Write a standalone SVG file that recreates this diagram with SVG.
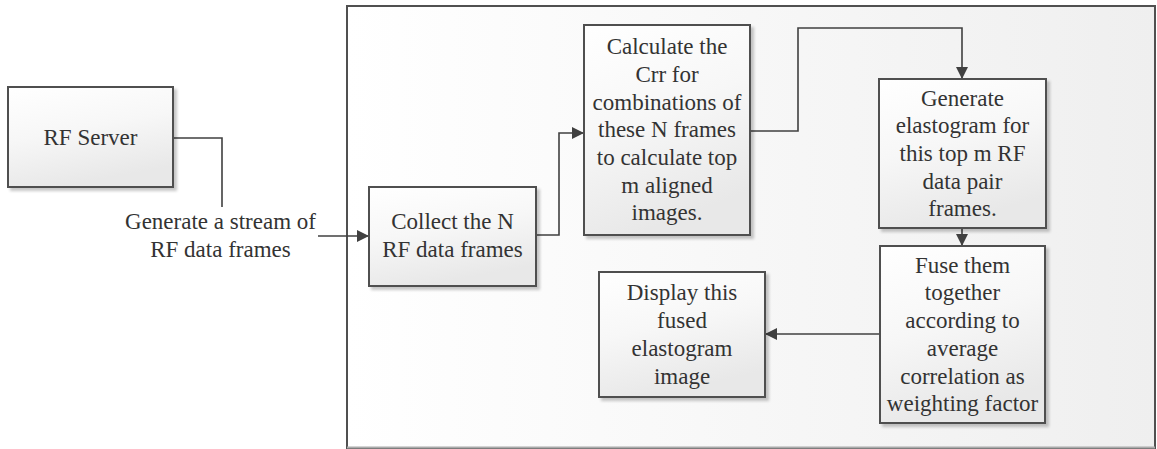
<svg xmlns="http://www.w3.org/2000/svg" width="1157" height="449" viewBox="0 0 1157 449">
  <defs>
    <linearGradient id="panelFill" x1="0" y1="0" x2="1" y2="0">
      <stop offset="0" stop-color="#ffffff"/>
      <stop offset="1" stop-color="#efefef"/>
    </linearGradient>
    <linearGradient id="boxFill" x1="0" y1="0" x2="0.3" y2="1">
      <stop offset="0" stop-color="#ffffff"/>
      <stop offset="0.5" stop-color="#f7f7f7"/>
      <stop offset="1" stop-color="#e8e8e8"/>
    </linearGradient>
    <filter id="shadow" x="-10%" y="-10%" width="130%" height="130%">
      <feGaussianBlur in="SourceAlpha" stdDeviation="1.5"/>
      <feOffset dx="3" dy="3" result="b"/>
      <feComponentTransfer><feFuncA type="linear" slope="0.22"/></feComponentTransfer>
      <feMerge><feMergeNode/><feMergeNode in="SourceGraphic"/></feMerge>
    </filter>
    <marker id="arrow" markerWidth="12" markerHeight="12" refX="12" refY="6" orient="auto" markerUnits="userSpaceOnUse">
      <path d="M0,0 L12,6 L0,12 Z" fill="#404040"/>
    </marker>
  </defs>
  <style>
    .box { fill: url(#boxFill); stroke: #505050; stroke-width: 2; filter: url(#shadow); }
    .lbl { font-size: 23px; fill: #333333; text-anchor: middle; }
    .wire { fill: none; stroke: #404040; stroke-width: 1.6; }
  </style>

  <rect width="1157" height="449" fill="#ffffff"/>

  <!-- processing panel -->
  <g id="panel">
    <rect x="347" y="6" width="808" height="442" fill="url(#panelFill)" stroke="#505050" stroke-width="2"/>
    <line x1="347" y1="447.5" x2="1155" y2="447.5" stroke="#aaaaaa" stroke-width="2"/>
  </g>

  <g font-family="'Liberation Serif', 'Times New Roman', 'DejaVu Serif', serif">
  <!-- connectors -->
  <g id="connectors">
    <polyline class="wire" points="173,138 222,138 222,207"/>
    <line class="wire" x1="318" y1="236" x2="369" y2="236" marker-end="url(#arrow)"/>
    <polyline class="wire" points="536,235 559,235 559,133 584,133" marker-end="url(#arrow)"/>
    <polyline class="wire" points="750,131 798,131 798,28 962,28 962,79" marker-end="url(#arrow)"/>
    <line class="wire" x1="962" y1="228" x2="962" y2="246" marker-end="url(#arrow)"/>
    <line class="wire" x1="880" y1="334" x2="765" y2="334" marker-end="url(#arrow)"/>
    <text class="lbl" x="220.5" y="229">Generate a stream of</text>
    <text class="lbl" x="220.5" y="257">RF data frames</text>
  </g>

  <g id="rf-server">
    <rect class="box" x="8" y="87" width="165" height="100"/>
    <text class="lbl" x="90.5" y="145">RF Server</text>
  </g>

  <g id="collect">
    <rect class="box" x="369" y="187" width="167" height="99"/>
    <text class="lbl" x="452.5" y="229">Collect the N</text>
    <text class="lbl" x="452.5" y="257">RF data frames</text>
  </g>

  <g id="calculate">
    <rect class="box" x="584" y="25" width="166" height="210"/>
    <text class="lbl" x="667" y="54">Calculate the</text>
    <text class="lbl" x="667" y="82">Crr for</text>
    <text class="lbl" x="667" y="110">combinations of</text>
    <text class="lbl" x="667" y="137">these N frames</text>
    <text class="lbl" x="667" y="165">to calculate top</text>
    <text class="lbl" x="667" y="193">m aligned</text>
    <text class="lbl" x="667" y="220">images.</text>
  </g>

  <g id="generate">
    <rect class="box" x="879" y="79" width="167" height="149"/>
    <text class="lbl" x="962.5" y="105.5">Generate</text>
    <text class="lbl" x="962.5" y="133">elastogram for</text>
    <text class="lbl" x="962.5" y="161">this top m RF</text>
    <text class="lbl" x="962.5" y="188.5">data pair</text>
    <text class="lbl" x="962.5" y="216">frames.</text>
  </g>

  <g id="fuse">
    <rect class="box" x="880" y="246" width="165" height="177"/>
    <text class="lbl" x="962.5" y="272.5">Fuse them</text>
    <text class="lbl" x="962.5" y="300">together</text>
    <text class="lbl" x="962.5" y="328">according to</text>
    <text class="lbl" x="962.5" y="356">average</text>
    <text class="lbl" x="962.5" y="383.5">correlation as</text>
    <text class="lbl" x="962.5" y="411">weighting factor</text>
  </g>

  <g id="display">
    <rect class="box" x="599" y="272" width="166" height="125"/>
    <text class="lbl" x="682" y="300">Display this</text>
    <text class="lbl" x="682" y="328">fused</text>
    <text class="lbl" x="682" y="356">elastogram</text>
    <text class="lbl" x="682" y="383.5">image</text>
  </g>
  </g>
</svg>
